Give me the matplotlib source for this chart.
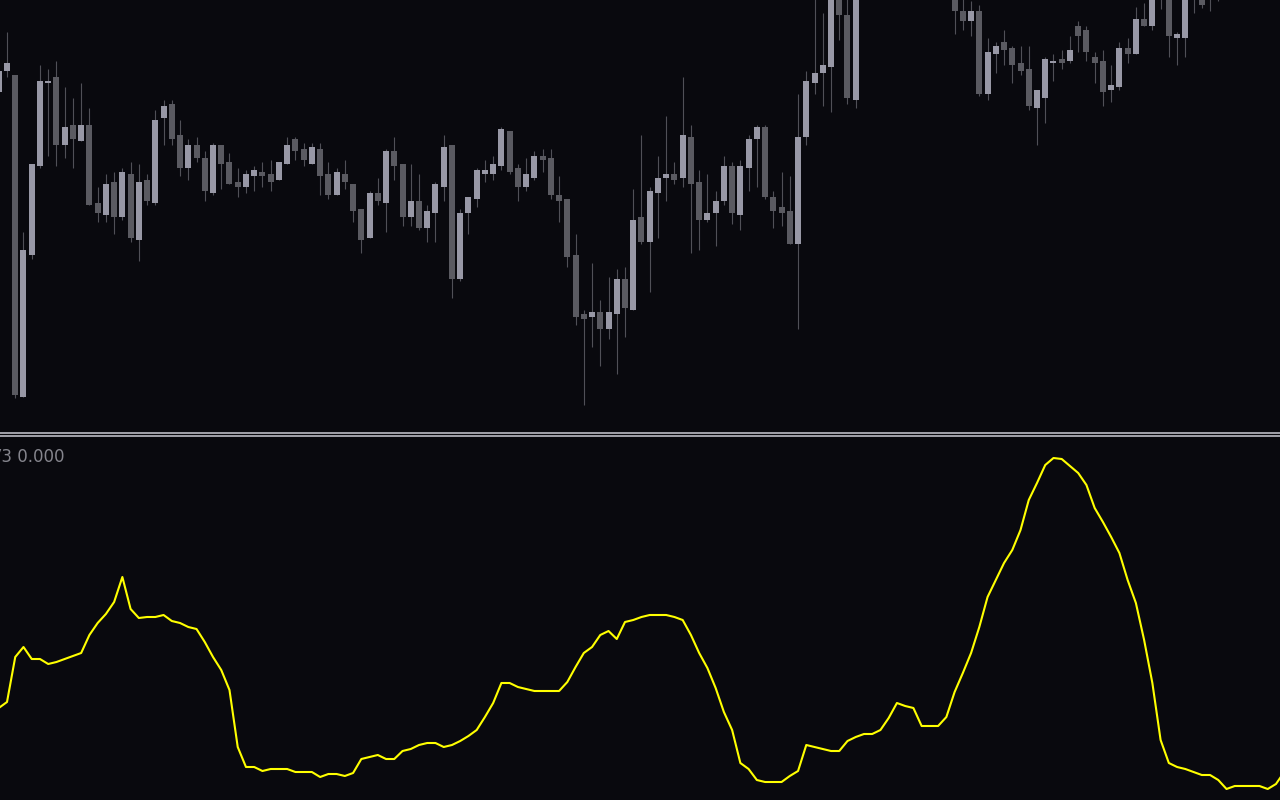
import numpy as np
import matplotlib.pyplot as plt
from matplotlib.lines import Line2D

# candle levels read off the chart, measured down from the top edge of the price pane
# (negative = above the visible area)
PANE = 430
o_read = [92, 71, 75, 397, 255, 166, 83, 77, 145, 125, 141, 125, 203, 215, 182, 217, 174, 240, 180, 203,
          118, 104, 135, 168, 145, 158, 193, 145, 162, 182, 187, 176, 172, 174, 180, 164, 139, 149, 164, 149,
          174, 195, 174, 184, 209, 238, 193, 203, 151, 164, 217, 201, 228, 213, 187, 145, 279, 213, 199, 174,
          174, 166, 131, 168, 187, 178, 156, 158, 195, 199, 255, 314, 317, 312, 329, 314, 279, 310, 217, 242,
          193, 178, 174, 178, 137, 182, 220, 213, 201, 166, 215, 168, 139, 127, 197, 207, 211, 244, 137, 83,
          73, 67, -25, 15, 100, -30, -15, -70, -95, -60, -120, -80, -50, -90, -40, -15, -35, 11, 21, 11,
          94, 54, 42, 48, 63, 69, 108, 98, 63, 59, 61, 26, 30, 57, 61, 90, 87, 48, 54, 19,
          26, -20, -5, 38, 38, -5, -25, -10, -15, -40, -10, -45, -65, -40, -80, -55, -90]
h_read = [62, 32, 75, 232, 164, 65, 69, 61, 87, 98, 83, 108, 187, 174, 172, 168, 162, 164, 174, 110,
          100, 100, 120, 139, 137, 151, 143, 145, 153, 168, 170, 166, 162, 160, 162, 137, 137, 143, 143, 143,
          162, 168, 160, 184, 209, 191, 178, 149, 137, 164, 164, 174, 205, 182, 135, 145, 209, 197, 168, 160,
          156, 127, 131, 164, 158, 151, 149, 149, 176, 199, 234, 310, 263, 300, 277, 269, 267, 189, 135, 187,
          156, 116, 162, 77, 125, 170, 174, 191, 156, 162, 160, 135, 125, 125, 191, 172, 176, 94, 71, -10,
          13, -30, -35, -10, -40, -50, -80, -105, -110, -130, -135, -90, -100, -95, -50, -45, -40, -5, 1, 5,
          38, 42, 30, 46, 46, 46, 90, 57, 54, 50, 36, 21, 26, 52, 50, 65, 42, 38, 7, 3,
          -15, -25, -10, 32, -15, -35, -30, -40, -45, -50, -55, -70, -75, -90, -85, -100, -105]
l_read = [95, 77, 398, 397, 259, 168, 156, 166, 158, 168, 141, 205, 222, 222, 234, 220, 242, 261, 205, 205,
          145, 145, 176, 180, 162, 201, 195, 189, 184, 197, 193, 191, 187, 191, 180, 164, 160, 166, 164, 195,
          199, 195, 189, 222, 253, 238, 205, 232, 180, 226, 226, 230, 242, 242, 201, 298, 281, 234, 207, 182,
          180, 170, 174, 201, 191, 180, 172, 199, 222, 267, 325, 405, 347, 366, 339, 374, 337, 310, 244, 292,
          238, 201, 184, 187, 253, 250, 222, 246, 205, 224, 230, 191, 187, 199, 228, 226, 244, 329, 145, 94,
          106, 112, 40, 104, 108, -8, -10, -60, -50, -55, -70, -40, -45, -30, -8, -5, 34, 30, 36, 96,
          100, 73, 65, 83, 75, 110, 145, 123, 81, 69, 63, 52, 61, 83, 106, 102, 90, 63, 54, 26,
          30, 9, 57, 65, 57, 13, 8, 11, 1, -3, -5, -30, -30, -35, -45, -50, -50]
c_read = [71, 63, 395, 250, 164, 81, 81, 145, 127, 139, 125, 205, 213, 184, 217, 172, 238, 182, 201, 120,
          106, 139, 168, 145, 158, 191, 145, 164, 184, 187, 174, 170, 176, 182, 162, 145, 151, 160, 147, 176,
          195, 172, 182, 211, 240, 193, 201, 151, 166, 217, 201, 228, 211, 184, 147, 279, 213, 197, 170, 170,
          164, 129, 172, 187, 174, 156, 160, 195, 201, 257, 317, 319, 312, 329, 312, 279, 308, 220, 242, 191,
          178, 174, 180, 135, 184, 220, 213, 201, 166, 213, 166, 139, 127, 197, 211, 213, 244, 137, 81, 73,
          65, -20, 15, 98, -30, -15, -70, -95, -60, -120, -80, -50, -90, -40, -15, -35, 11, 21, 11, 94,
          52, 46, 50, 65, 71, 106, 90, 59, 61, 63, 50, 36, 52, 63, 92, 85, 48, 54, 19, 26,
          -10, -5, 36, 34, -8, -30, 5, -35, -40, -10, -50, -65, -40, -80, -55, -90, -60]

# indicator line, height above the bottom of the lower pane
indicator = [92, 98, 143, 153, 141, 141, 136, 138, 141, 144, 147, 165, 177, 186, 198, 223, 191, 182, 183, 183,
             185, 179, 177, 173, 171, 158, 143, 130, 110, 53, 33, 33, 29, 31, 31, 31, 28, 28, 28, 23,
             26, 26, 24, 27, 41, 43, 45, 41, 41, 49, 51, 55, 57, 57, 53, 55, 59, 64, 70, 83,
             97, 117, 117, 113, 111, 109, 109, 109, 109, 118, 133, 147, 153, 165, 169, 161, 178, 180, 183, 185,
             185, 185, 183, 180, 165, 147, 132, 112, 88, 70, 37, 31, 20, 18, 18, 18, 24, 29, 55, 53,
             51, 49, 49, 59, 63, 66, 66, 70, 82, 97, 94, 92, 74, 74, 74, 83, 108, 127, 147, 173,
             203, 220, 237, 250, 270, 300, 317, 335, 342, 341, 334, 327, 315, 292, 278, 263, 247, 220, 197, 160,
             117, 60, 37, 33, 31, 28, 25, 25, 20, 11, 14, 14, 14, 14, 11, 16, 28]
label = "V3 0.000"

opens = PANE - np.array(o_read, dtype=float)
highs = PANE - np.array(h_read, dtype=float)
lows = PANE - np.array(l_read, dtype=float)
closes = PANE - np.array(c_read, dtype=float)
x = np.arange(len(opens))

bg = '#09090e'
bull = '#9898a6'
bear = '#5a5a61'
wick = '#505057'

fig = plt.figure(figsize=(12.8, 8), dpi=100, facecolor=bg)
ax = fig.add_axes([0, 370 / 800, 1, 430 / 800], facecolor=bg)
ax2 = fig.add_axes([0, 0, 1, 363 / 800], facecolor=bg)

# price pane
up = closes >= opens
colors = np.where(up, bull, bear)
body_lo = np.minimum(opens, closes)
body_h = np.maximum(np.abs(closes - opens), 1.3)
ax.vlines(x, lows, highs, color=wick, linewidth=0.8, zorder=1)
ax.bar(x, body_h, bottom=body_lo, width=0.73, color=colors, linewidth=0, zorder=2)
ax.set_xlim(0.15, 155.49)
ax.set_ylim(0, PANE)

# indicator pane
ax2.plot(x, indicator, color='#ffff00', linewidth=1.5)
ax2.set_xlim(0.15, 155.49)
ax2.set_ylim(0, 363)

for a in (ax, ax2):
    a.set_xticks([])
    a.set_yticks([])
    for s in a.spines.values():
        s.set_visible(False)

# pane separator
for yy in (433 , 436.3):
    fig.add_artist(Line2D([0, 1], [1 - yy / 800, 1 - yy / 800], transform=fig.transFigure,
                          color='#a2a2aa', linewidth=1.4))

fig.text(-9.5 / 1280, 1 - 462.5 / 800, label, color='#85858d', fontsize=12,
         family='DejaVu Sans', va='baseline', ha='left')

fig.savefig('out.png', dpi=100, facecolor=bg)
